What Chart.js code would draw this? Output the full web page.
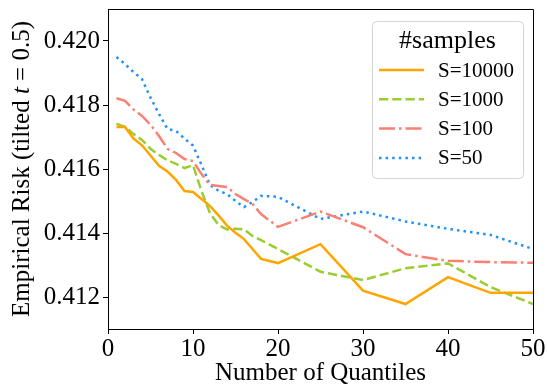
<!DOCTYPE html>
<html>
<head>
<meta charset="utf-8">
<script src="https://cdn.jsdelivr.net/npm/chart.js@4/dist/chart.umd.min.js"></script>
<style>
  html, body { margin: 0; padding: 0; background: #fff; }
  #wrap { width: 547px; height: 388px; }
</style>
</head>
<body>
<div id="wrap"><canvas id="chart"></canvas></div>
<script>
// number of quantiles on the x axis
const quantiles = [1, 2, 3, 4, 5, 6, 7, 8, 9, 10, 11, 12, 13, 14, 15, 16, 17, 18, 20, 25, 30, 35, 40, 45, 50];

// empirical risk per sample count
const riskS10000 = [0.41731, 0.41731, 0.41695, 0.41674, 0.41642, 0.41610, 0.41592, 0.41566, 0.41531, 0.41528,
                    0.41506, 0.41484, 0.41455, 0.41423, 0.41401, 0.41381, 0.41350, 0.41319, 0.41306, 0.41365,
                    0.41220, 0.41178, 0.41262, 0.41213, 0.41213];
const riskS1000  = [0.41741, 0.41732, 0.41709, 0.41691, 0.41663, 0.41644, 0.41627, 0.41616, 0.41603, 0.41612,
                    0.41531, 0.41462, 0.41425, 0.41411, 0.41413, 0.41411, 0.41391, 0.41378, 0.41350, 0.41279,
                    0.41253, 0.41290, 0.41305, 0.41231, 0.41178];
const riskS100   = [0.41821, 0.41813, 0.41786, 0.41766, 0.41738, 0.41703, 0.41663, 0.41650, 0.41631, 0.41625,
                    0.41584, 0.41550, 0.41547, 0.41544, 0.41522, 0.41506, 0.41491, 0.41459, 0.41419, 0.41467,
                    0.41418, 0.41334, 0.41313, 0.41309, 0.41307];
const riskS50    = [0.41950, 0.41928, 0.41903, 0.41881, 0.41823, 0.41772, 0.41725, 0.41719, 0.41695, 0.41673,
                    0.41613, 0.41550, 0.41532, 0.41522, 0.41500, 0.41481, 0.41497, 0.41516, 0.41513, 0.41444,
                    0.41467, 0.41436, 0.41413, 0.41394, 0.41350];

const seriesNames = ['S=10000', 'S=1000', 'S=100', 'S=50'];
const xTicks = [0, 10, 20, 30, 40, 50];
const yTicks = [0.412, 0.414, 0.416, 0.418, 0.420];

const SERIF = "'Liberation Serif', 'Times New Roman', serif";
const LW = 2.5;

Chart.defaults.font.family = SERIF;
Chart.defaults.color = '#000';

function points(values) {
    return values.map((v, i) => ({ x: quantiles[i], y: v }));
}

function lineSet(label, values, color, dash) {
    return {
        label: label,
        data: points(values),
        borderColor: color,
        backgroundColor: color,
        borderWidth: LW,
        borderDash: dash,
        borderCapStyle: 'butt',
        pointRadius: 0,
        tension: 0,
        fill: false
    };
}

// top / right frame lines
const frame = {
    id: 'frame',
    afterDatasetsDraw(chart) {
        const { ctx, chartArea: a } = chart;
        ctx.save();
        ctx.strokeStyle = '#000';
        ctx.lineWidth = 1;
        ctx.beginPath();
        ctx.moveTo(a.left, a.top + 0.5);
        ctx.lineTo(a.right + 0.5, a.top + 0.5);
        ctx.lineTo(a.right + 0.5, a.bottom);
        ctx.stroke();
        ctx.restore();
    }
};

// rotated y title with an italic t
const yTitle = {
    id: 'yTitle',
    afterDraw(chart) {
        const { ctx, chartArea: a } = chart;
        const parts = [
            ['Empirical Risk (tilted ', 'normal'],
            ['t', 'italic'],
            [' = 0.5)', 'normal']
        ];
        ctx.save();
        ctx.fillStyle = '#000';
        ctx.textBaseline = 'middle';
        let total = 0;
        parts.forEach(p => {
            ctx.font = p[1] + ' 25px ' + SERIF;
            total += ctx.measureText(p[0]).width;
        });
        ctx.translate(22, (a.top + a.bottom) / 2);
        ctx.rotate(-Math.PI / 2);
        let x = -total / 2;
        parts.forEach(p => {
            ctx.font = p[1] + ' 25px ' + SERIF;
            ctx.fillText(p[0], x, 0);
            x += ctx.measureText(p[0]).width;
        });
        ctx.restore();
    }
};

// boxed legend in the upper right corner
const legendBox = {
    id: 'legendBox',
    afterDraw(chart) {
        const { ctx, chartArea: a } = chart;
        const w = 151, h = 157;
        const x0 = a.right - 10 - w, y0 = a.top + 12;
        ctx.save();
        ctx.beginPath();
        ctx.roundRect(x0 + 0.5, y0 + 0.5, w, h, 4);
        ctx.fillStyle = 'rgba(255,255,255,0.85)';
        ctx.fill();
        ctx.strokeStyle = '#d4d4d4';
        ctx.lineWidth = 1;
        ctx.stroke();

        ctx.fillStyle = '#000';
        ctx.textAlign = 'center';
        ctx.textBaseline = 'middle';
        ctx.font = '26px ' + SERIF;
        ctx.fillText('#samples', x0 + w / 2, y0 + 20);

        ctx.textAlign = 'left';
        ctx.font = '21px ' + SERIF;
        chart.data.datasets.forEach((ds, i) => {
            const cy = y0 + 49 + i * 29.3;
            ctx.save();
            ctx.strokeStyle = ds.borderColor;
            ctx.lineWidth = LW;
            ctx.lineCap = 'butt';
            ctx.setLineDash(ds.borderDash);
            ctx.beginPath();
            ctx.moveTo(x0 + 7, cy);
            ctx.lineTo(x0 + 52, cy);
            ctx.stroke();
            ctx.restore();
            ctx.fillText(ds.label, x0 + 66, cy + 1);
        });
        ctx.restore();
    }
};

const ctx = document.getElementById('chart').getContext('2d');

const chart = new Chart(ctx, {
    type: 'line',
    data: {
        datasets: [
            lineSet(seriesNames[0], riskS10000, '#FFA500', []),
            lineSet(seriesNames[1], riskS1000, '#9ACD32', [9.25, 4]),
            lineSet(seriesNames[2], riskS100, '#FA8072', [16, 4, 2.5, 4]),
            lineSet(seriesNames[3], riskS50, '#1E90FF', [2.5, 4.1])
        ]
    },
    options: {
        responsive: true,
        maintainAspectRatio: false,
        animation: false,
        layout: {
            padding: { top: 9, right: 14, left: 0, bottom: 0 }
        },
        plugins: {
            legend: { display: false },
            tooltip: { enabled: false }
        },
        scales: {
            x: {
                type: 'linear',
                min: 0,
                max: 50,
                afterBuildTicks: (scale) => {
                    scale.ticks = xTicks.map(v => ({ value: v }));
                },
                afterFit: (scale) => {
                    scale.height = 59;
                    scale.paddingLeft = 0;
                    scale.paddingRight = 0;
                },
                ticks: {
                    color: '#000',
                    padding: 0,
                    maxRotation: 0,
                    font: { family: SERIF, size: 25 },
                    callback: (v) => String(v)
                },
                grid: {
                    drawOnChartArea: false,
                    tickLength: 5,
                    tickColor: '#000',
                    tickWidth: 1
                },
                border: { display: true, color: '#000', width: 1 },
                title: {
                    display: true,
                    text: 'Number of Quantiles',
                    color: '#000',
                    font: { family: SERIF, size: 25 },
                    padding: { top: 0, bottom: 0 }
                }
            },
            y: {
                min: 0.411,
                max: 0.421,
                afterBuildTicks: (scale) => {
                    scale.ticks = yTicks.map(v => ({ value: v }));
                },
                afterFit: (scale) => {
                    scale.width = 108;
                    // tick labels sit well inside the range, no edge room needed
                    scale.paddingTop = 0;
                    scale.paddingBottom = 0;
                },
                ticks: {
                    color: '#000',
                    padding: 3,
                    font: { family: SERIF, size: 25 },
                    callback: (v) => v.toFixed(3)
                },
                grid: {
                    drawOnChartArea: false,
                    tickLength: 5,
                    tickColor: '#000',
                    tickWidth: 1
                },
                border: { display: true, color: '#000', width: 1 }
            }
        }
    },
    plugins: [frame, yTitle, legendBox]
});
</script>
</body>
</html>
